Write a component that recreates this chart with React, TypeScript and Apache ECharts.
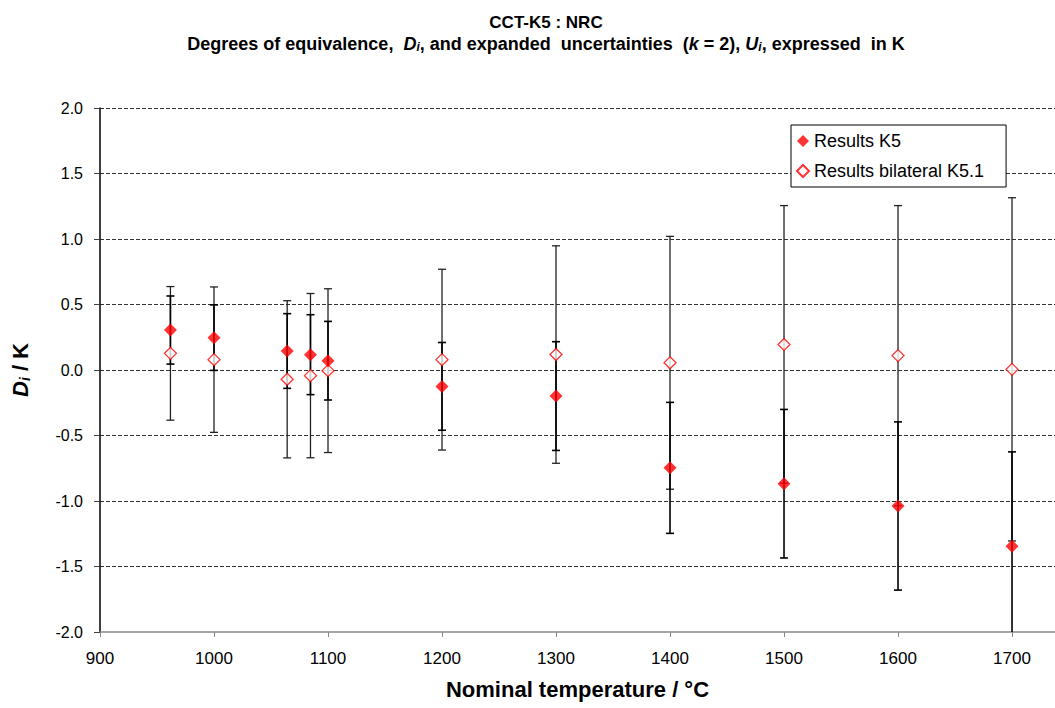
import React, { useEffect, useRef } from "react";
import * as echarts from "echarts";

const temps = [961.78, 1000, 1064.18, 1084.62, 1100, 1200, 1300, 1400, 1500, 1600, 1700];
const k5D = [0.305, 0.247, 0.145, 0.117, 0.071, -0.125, -0.199, -0.747, -0.868, -1.038, -1.345];
const k5U = [0.26, 0.25, 0.285, 0.305, 0.3, 0.335, 0.415, 0.5, 0.567, 0.642, 0.72];
const k51D = [0.127, 0.079, -0.071, -0.043, -0.005, 0.079, 0.118, 0.055, 0.195, 0.11, 0.005];
const k51U = [0.51, 0.555, 0.6, 0.627, 0.625, 0.69, 0.83, 0.965, 1.06, 1.145, 1.31];

const FONT = "'Liberation Sans', Arial, sans-serif";

function errRenderer(color: string, width: number, cap: number) {
  return (_params: any, api: any) => {
    const x = api.value(0);
    const lo = api.value(1);
    const hi = api.value(2);
    const pLo = api.coord([x, lo]);
    const pHi = api.coord([x, hi]);
    const style = { stroke: color, lineWidth: width };
    return {
      type: "group",
      children: [
        { type: "line", shape: { x1: pLo[0], y1: pLo[1], x2: pHi[0], y2: pHi[1] }, style },
        { type: "line", shape: { x1: pLo[0] - cap, y1: pLo[1], x2: pLo[0] + cap, y2: pLo[1] }, style },
        { type: "line", shape: { x1: pHi[0] - cap, y1: pHi[1], x2: pHi[0] + cap, y2: pHi[1] }, style },
      ],
    };
  };
}

export default function App() {
  const ref = useRef<HTMLDivElement>(null);
  useEffect(() => {
    if (!ref.current) return;
    const chart = echarts.init(ref.current, undefined, { renderer: "svg" });
    const errK5 = temps.map((t, i) => [t, k5D[i] - k5U[i], k5D[i] + k5U[i]]);
    const errK51 = temps.map((t, i) => [t, k51D[i] - k51U[i], k51D[i] + k51U[i]]);
    chart.setOption({
      animation: false,
      backgroundColor: "#fff",
      title: {
        left: 541,
        top: 7,
        textAlign: "center",
        text:
          "{a|CCT-K5 : NRC}\n{b|Degrees of equivalence,  }{bi|D}{si|i}{b|, and expanded  uncertainties  (}{bi|k}{b| = 2), }{bi|U}{si|i}{b|, expressed  in K}",
        textStyle: {
          rich: {
            a: { fontFamily: FONT, fontWeight: "bold", fontSize: 17, color: "#000", lineHeight: 21 },
            b: { fontFamily: FONT, fontWeight: "bold", fontSize: 18, color: "#000", lineHeight: 21 },
            bi: { fontFamily: FONT, fontWeight: "bold", fontStyle: "italic", fontSize: 18, color: "#000", lineHeight: 21 },
            si: { fontFamily: FONT, fontWeight: "bold", fontStyle: "italic", fontSize: 12, color: "#000", lineHeight: 21, padding: [7, 0, 0, 0] },
          },
        },
      },
      grid: { left: 100, top: 108, right: 0, bottom: 76, containLabel: false },
      legend: {
        orient: "vertical",
        left: 791,
        top: 125,
        backgroundColor: "#fff",
        borderColor: "#000",
        borderWidth: 1,
        borderRadius: 0,
        padding: [7, 22, 7, 5],
        itemGap: 12,
        itemWidth: 12,
        itemHeight: 12,
        textStyle: { fontFamily: FONT, fontSize: 18, color: "#000" },
        data: [
          { name: "Results K5", icon: "diamond" },
          { name: "Results bilateral K5.1", icon: "diamond" },
        ],
      },
      xAxis: {
        type: "value",
        min: 900,
        max: 1737.7,
        interval: 100,
        name: "Nominal temperature / °C",
        nameLocation: "middle",
        nameGap: 46,
        nameTextStyle: { fontFamily: FONT, fontWeight: "bold", fontSize: 22, color: "#000" },
        axisLine: { show: true, onZero: false, lineStyle: { color: "#888", width: 1.5 } },
        axisTick: { show: true, length: 5, lineStyle: { color: "#888" } },
        axisLabel: {
          fontFamily: FONT,
          fontSize: 17,
          color: "#000",
          margin: 18,
          showMaxLabel: false,
          formatter: (v: number) => String(Math.round(v)),
        },
        splitLine: { show: false },
      },
      yAxis: {
        type: "value",
        min: -2,
        max: 2,
        interval: 0.5,
        name: "{d|D}{s|i}{n| / K}",
        nameLocation: "middle",
        nameRotate: 90,
        nameGap: 68,
        nameTextStyle: {
          rich: {
            d: { fontFamily: FONT, fontWeight: "bold", fontStyle: "italic", fontSize: 22, color: "#000" },
            s: { fontFamily: FONT, fontWeight: "bold", fontStyle: "italic", fontSize: 14, color: "#000", padding: [9, 0, 0, 0] },
            n: { fontFamily: FONT, fontWeight: "bold", fontSize: 22, color: "#000" },
          },
        },
        axisLine: { show: true, lineStyle: { color: "#000", width: 1.5 } },
        axisTick: { show: true, length: 6, lineStyle: { color: "#444" } },
        axisLabel: {
          fontFamily: FONT,
          fontSize: 16,
          color: "#000",
          margin: 17,
          formatter: (v: number) => v.toFixed(1),
        },
        splitLine: { show: true, showMinLine: false, lineStyle: { color: "#333", type: [4, 2], width: 1 } },
      },
      series: [
        {
          type: "custom",
          name: "errK51",
          renderItem: errRenderer("#222", 1.3, 4),
          data: errK51,
          clip: true,
          silent: true,
          z: 2,
        },
        {
          type: "custom",
          name: "errK5",
          renderItem: errRenderer("#000", 1.6, 4),
          data: errK5,
          clip: true,
          silent: true,
          z: 3,
        },
        {
          type: "scatter",
          name: "Results bilateral K5.1",
          symbol: "diamond",
          symbolSize: 12,
          itemStyle: { color: "#fff", borderColor: "#f00", borderWidth: 1.3 },
          data: temps.map((t, i) => [t, k51D[i]]),
          z: 4,
        },
        {
          type: "scatter",
          name: "Results K5",
          symbol: "diamond",
          symbolSize: 13,
          itemStyle: { color: "#f00" },
          data: temps.map((t, i) => [t, k5D[i]]),
          z: 5,
        },
      ],
    });
    return () => chart.dispose();
  }, []);
  return (
    <div
      ref={ref}
      style={{ position: "fixed", left: 0, top: 0, width: 1055, height: 708, background: "#fff" }}
    />
  );
}
